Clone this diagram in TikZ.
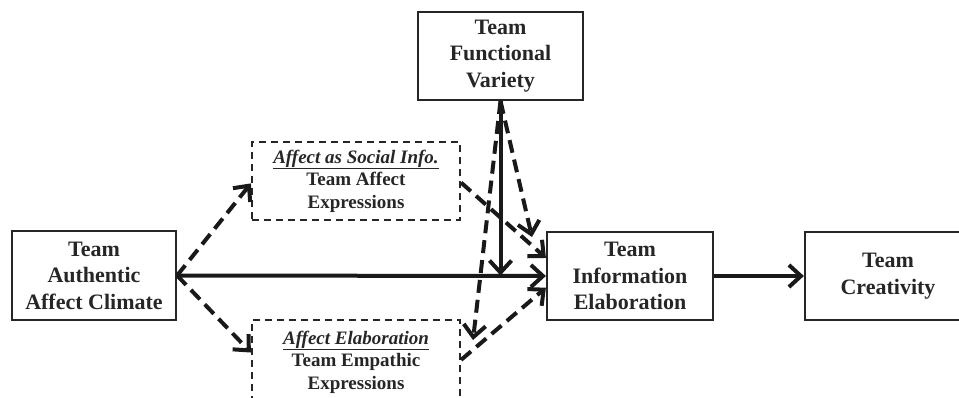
\documentclass[tikz,border=0pt]{standalone}
\usepackage{fontspec}
\setmainfont{Liberation Serif}
\usetikzlibrary{arrows.meta,calc}
\tikzset{
  box/.style={draw=black!85, line width=2.2pt, inner sep=0pt, align=center,
    font=\bfseries\fontsize{22}{26.5}\selectfont, text=black!85},
  dbox/.style={box, dash pattern=on 7pt off 5pt,
    font=\bfseries\fontsize{19}{22.5}\selectfont},
  link/.style={line width=4pt, draw=black!90,
    -{Straight Barb[length=12pt,width=22pt,line width=4pt]}},
  dlink/.style={link, dash pattern=on 13pt off 7pt},
}
\begin{document}
\begin{tikzpicture}[x=1pt,y=-1pt]
\useasboundingbox (0,0) rectangle (959,397);
\node[box, minimum width=164pt, minimum height=89pt] (climate) at (94,275.5)
  {Team\\Authentic\\Affect Climate};
\node[box, minimum width=165pt, minimum height=88pt] (fv) at (500.5,56)
  {Team\\Functional\\Variety};
\node[dbox, minimum width=208pt, minimum height=78pt] (social) at (356,181)
  {\underline{\textit{Affect as Social Info.}}\\Team Affect\\Expressions};
\node[dbox, minimum width=208pt, minimum height=84pt] (empath) at (356,362)
  {\underline{\textit{Affect Elaboration}}\\Team Empathic\\Expressions};
\node[box, minimum width=166pt, minimum height=88pt] (elab) at (630,276)
  {Team\\Information\\Elaboration};
\node[box, minimum width=166pt, minimum height=88pt] (creat) at (888,276)
  {Team\\Creativity};
\coordinate (m) at (fv.south |- climate.east);
\coordinate (t1) at (532,237);
\coordinate (t2) at (473,340);
\draw[link] (climate.east) -- (elab.west);
\draw[dlink] (climate.east) -- ($(social.north west)!0.53!(social.south west)$);
\draw[dlink] (climate.east) -- ($(empath.north west)!0.39!(empath.south west)$);
\draw[dlink] ($(social.north east)!0.52!(social.south east)$) -- ($(elab.north west)!0.3!(elab.south west)$);
\draw[dlink] ($(empath.north east)!0.475!(empath.south east)$) -- ($(elab.north west)!0.63!(elab.south west)$);
\draw[link] (fv.south) -- (m);
\draw[dlink] (fv.south) -- (t1);
\draw[dlink] (fv.south) -- (t2);
\draw[link] (elab.east) -- (creat.west);
\end{tikzpicture}
\end{document}
